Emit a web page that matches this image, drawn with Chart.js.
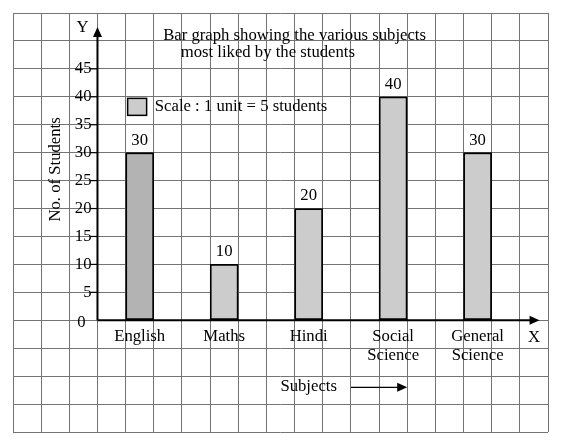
<!DOCTYPE html>
<html>
<head>
<meta charset="utf-8">
<script src="https://cdn.jsdelivr.net/npm/chart.js@4.4.1/dist/chart.umd.min.js"></script>
<style>
  html, body { margin: 0; padding: 0; background: #fff; }
  canvas { display: block; }
</style>
</head>
<body>
<canvas id="chart" width="562" height="446"></canvas>
<script>
// values
const subjects = [['English'], ['Maths'], ['Hindi'], ['Social', 'Science'], ['General', 'Science']];
const students = [30, 10, 20, 40, 30];
const yTicks = [0, 5, 10, 15, 20, 25, 30, 35, 40, 45];
const barColors = ['#b3b3b3', '#cccccc', '#cccccc', '#cccccc', '#cccccc'];
const titleLines = ['Bar graph showing the various subjects', 'most liked by the students'];
const legendText = 'Scale : 1 unit = 5 students';
const yAxisTitle = 'No. of Students';
const xAxisTitle = 'Subjects';

// graph paper: 19 columns, rows of 5 units from -20 to 55
const paper = { cols: 19, yMin: -20, yMax: 55, step: 5, axisCol: 3, firstBar: 4, gap: 3 };
const FONT = '16.7px "Liberation Serif", "Times New Roman", serif';
const GRID = '#747474';

function arrowHead(ctx, tx, ty, dx, dy) {
  // filled triangle pointing along (dx, dy)
  const len = 10, half = 4.5;
  const bx = tx - dx * len, by = ty - dy * len;
  ctx.beginPath();
  ctx.moveTo(tx, ty);
  ctx.lineTo(bx - dy * half, by + dx * half);
  ctx.lineTo(bx + dy * half, by - dx * half);
  ctx.closePath();
  ctx.fill();
}

const sketch = {
  id: 'sketch',
  afterDatasetsDraw(chart) {
    const { ctx, scales: { x, y } } = chart;
    const ax = x.getPixelForValue(paper.axisCol);
    const ay = y.getPixelForValue(0);
    ctx.save();
    ctx.strokeStyle = '#000';
    ctx.fillStyle = '#000';

    // axes with arrows
    const yTop = y.getPixelForValue(52.5);
    const xEnd = x.getPixelForValue(18.7);
    ctx.lineWidth = 2;
    ctx.beginPath();
    ctx.moveTo(ax, ay); ctx.lineTo(ax, yTop + 6);
    ctx.moveTo(ax, ay); ctx.lineTo(xEnd - 6, ay);
    ctx.stroke();
    arrowHead(ctx, ax, yTop, 0, -1);
    arrowHead(ctx, xEnd, ay, 1, 0);

    ctx.font = FONT;
    // y ticks
    ctx.lineWidth = 1.2;
    ctx.textAlign = 'right';
    ctx.textBaseline = 'middle';
    yTicks.forEach((v) => {
      const py = y.getPixelForValue(v);
      if (v === 0) {
        ctx.fillText(String(v), ax - 12, py + 2);
        return;
      }
      ctx.beginPath(); ctx.moveTo(ax - 7, py); ctx.lineTo(ax, py); ctx.stroke();
      ctx.fillText(String(v), ax - 6, py);
    });

    // axis letters
    ctx.textAlign = 'center';
    ctx.fillText('Y', ax - 15, yTop + 1);
    ctx.fillText('X', x.getPixelForValue(18.5), ay + 17);

    // category labels and values above bars
    const meta = chart.getDatasetMeta(0);
    meta.data.forEach((bar, i) => {
      subjects[i].forEach((line, k) => ctx.fillText(line, bar.x, ay + 16 + k * 19));
      ctx.fillText(String(students[i]), bar.x, bar.y - 12.5);
    });

    // title
    ctx.textBaseline = 'alphabetic';
    ctx.fillText(titleLines[0], x.getPixelForValue(10), y.getPixelForValue(50) - 0.5);
    ctx.fillText(titleLines[1], x.getPixelForValue(9.05), y.getPixelForValue(47) - 0.5);

    // legend
    const lx = x.getPixelForValue(paper.firstBar) + 2;
    const ly = y.getPixelForValue(38.2);
    ctx.fillStyle = '#cccccc';
    ctx.fillRect(lx, ly - 8.5, 19, 17);
    ctx.lineWidth = 1.5;
    ctx.strokeRect(lx, ly - 8.5, 19, 17);
    ctx.fillStyle = '#000';
    ctx.textAlign = 'left';
    ctx.textBaseline = 'middle';
    ctx.fillText(legendText, x.getPixelForValue(paper.firstBar + 1) + 1, ly);

    // x axis caption with arrow
    const sy = y.getPixelForValue(-12);
    ctx.textAlign = 'center';
    ctx.fillText(xAxisTitle, x.getPixelForValue(10.5), sy - 1);
    const s0 = x.getPixelForValue(12), s1 = x.getPixelForValue(14);
    ctx.lineWidth = 1.3;
    ctx.beginPath(); ctx.moveTo(s0, sy); ctx.lineTo(s1 - 6, sy); ctx.stroke();
    arrowHead(ctx, s1, sy, 1, 0);

    // y axis caption
    ctx.translate(x.getPixelForValue(1.5), y.getPixelForValue(27));
    ctx.rotate(-Math.PI / 2);
    ctx.fillText(yAxisTitle, 0, 0);
    ctx.restore();
  },
};

const gridOpts = { color: GRID, lineWidth: 1, drawTicks: false, offset: false };

new Chart(document.getElementById('chart'), {
  type: 'bar',
  data: {
    datasets: [{
      data: students.map((v, i) => ({ x: paper.firstBar + 0.5 + i * paper.gap, y: v })),
      backgroundColor: barColors,
      borderColor: '#000',
      borderWidth: 1.8,
      borderSkipped: false,
      categoryPercentage: 1,
      barPercentage: 1,
    }],
  },
  options: {
    responsive: false,
    animation: false,
    layout: { padding: { left: 13, top: 13, right: 14, bottom: 14 } },
    plugins: { legend: { display: false }, tooltip: { enabled: false } },
    scales: {
      x: {
        type: 'linear', min: 0, max: paper.cols, offset: false,
        ticks: { stepSize: 1, display: false },
        grid: gridOpts, border: { display: false },
      },
      y: {
        type: 'linear', min: paper.yMin, max: paper.yMax,
        ticks: { stepSize: paper.step, display: false },
        grid: gridOpts, border: { display: false },
      },
    },
  },
  plugins: [sketch],
});
</script>
</body>
</html>
